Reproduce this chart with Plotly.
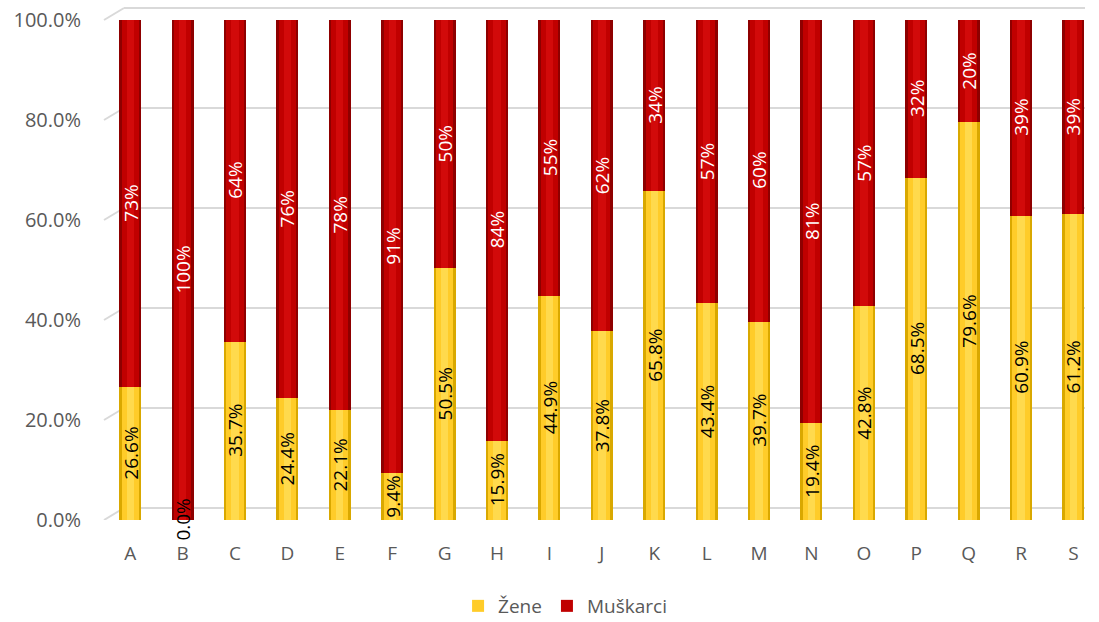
import plotly.graph_objects as go

categories = ["A", "B", "C", "D", "E", "F", "G", "H", "I", "J", "K", "L", "M", "N", "O", "P", "Q", "R", "S"]
zene = [26.6, 0.0, 35.7, 24.4, 22.1, 9.4, 50.5, 15.9, 44.9, 37.8, 65.8, 43.4, 39.7, 19.4, 42.8, 68.5, 79.6, 60.9, 61.2]
muskarci = [73.4, 100.0, 64.3, 75.6, 77.9, 90.6, 49.5, 84.1, 55.1, 62.2, 34.2, 56.6, 60.3, 80.6, 57.2, 31.5, 20.4, 39.1, 38.8]
y_ticks = [0, 20, 40, 60, 80, 100]

FONT = "Open Sans"
GRAY = "#595959"
YEL_DARK, YEL, YEL_HI = "#D9A800", "#FFCC29", "#FFDA4D"
RED_DARK, RED, RED_HI = "#8E0000", "#C00000", "#D20A0A"

fig = go.Figure()

def cyl(name, y, base, dark, mid, hi, show):
    fig.add_trace(go.Bar(x=categories, y=y, base=base, width=0.42, name=name,
                         marker=dict(color=dark, line=dict(width=0)),
                         showlegend=False, hoverinfo="skip"))
    fig.add_trace(go.Bar(x=categories, y=y, base=base, width=0.33, name=name,
                         marker=dict(color=mid, line=dict(width=0)),
                         showlegend=show, legendgroup=name))
    fig.add_trace(go.Bar(x=categories, y=y, base=base, width=0.14, name=name,
                         marker=dict(color=hi, line=dict(width=0)),
                         showlegend=False, hoverinfo="skip"))

cyl("Žene", zene, [0] * len(zene), YEL_DARK, YEL, YEL_HI, True)
cyl("Muškarci", muskarci, zene, RED_DARK, RED, RED_HI, True)

# back-wall gridlines (pseudo 3D)
dx = 20 / (1085 - 104)
off = 2.4
shapes = []
for v in y_ticks:
    shapes.append(dict(type="line", xref="paper", yref="y", x0=dx, x1=1.0, y0=v + off, y1=v + off,
                       line=dict(color="#D9D9D9", width=2), layer="below"))
    shapes.append(dict(type="line", xref="paper", yref="y", x0=0, x1=dx, y0=v, y1=v + off,
                       line=dict(color="#D9D9D9", width=2), layer="below"))

annotations = []
for c, z, m in zip(categories, zene, muskarci):
    annotations.append(dict(x=c, y=z / 2, text=f"{z:.1f}%", textangle=-90, showarrow=False,
                            font=dict(family=FONT, size=19, color="#000000"), xref="x", yref="y"))
    annotations.append(dict(x=c, y=z + m / 2, text=f"{m:.0f}%", textangle=-90, showarrow=False,
                            font=dict(family=FONT, size=19, color="#FFFFFF"), xref="x", yref="y"))

fig.update_layout(
    width=1099, height=622,
    margin=dict(l=104, r=14, t=5, b=102, autoexpand=False),
    paper_bgcolor="white", plot_bgcolor="white",
    barmode="overlay",
    bargap=0,
    shapes=shapes,
    annotations=annotations,
    font=dict(family=FONT, color=GRAY),
    xaxis=dict(type="category", range=[-0.5, 18.22], showgrid=False, zeroline=False, showline=False,
               automargin=False,
               ticks="", ticklabelstandoff=20, tickfont=dict(family=FONT, size=19, color=GRAY)),
    yaxis=dict(range=[0, 103], tickvals=y_ticks, ticktext=[f"{v:.1f}%" for v in y_ticks],
               automargin=False,
               showgrid=False, zeroline=False, showline=False, ticks="", ticklabelstandoff=22,
               tickfont=dict(family=FONT, size=20, color=GRAY)),
    legend=dict(orientation="h", x=0.47, xanchor="center", y=-0.167, yanchor="middle",
                font=dict(family=FONT, size=19, color=GRAY), itemwidth=30, traceorder="normal"),
)

fig.write_html("out.html", config={"displayModeBar": False},
               post_script="document.body.style.margin='0px';")
